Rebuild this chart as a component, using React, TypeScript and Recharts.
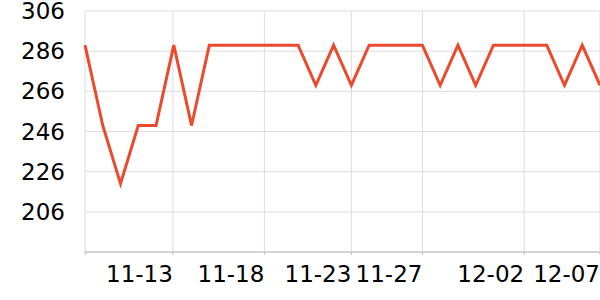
import { LineChart, Line, XAxis, YAxis, CartesianGrid } from 'recharts';

// daily readings, one per point
const values = [
    289, 249, 220, 249, 249, 289, 249, 289, 289, 289,
    289, 289, 289, 269, 289, 269, 289, 289, 289, 289,
    269, 289, 269, 289, 289, 289, 289, 269, 289, 269,
];

// where the date ticks fall along the point index, and their labels
const tickAt = [0, 4.95, 10.1, 15, 19, 24.73, 29];
const tickLabels = ['', '11-13', '11-18', '11-23', '11-27', '12-02', '12-07'];

const yTicks = [206, 226, 246, 266, 286, 306];

const data = values.map((v, i) => ({ i, value: v }));

const FONT = '"DejaVu Sans", sans-serif';

// x labels sit to the left of their tick
const DateTick = ({ x, y, payload }: any) => {
    const idx = tickAt.indexOf(payload.value);
    const label = idx >= 0 ? tickLabels[idx] : '';
    return (
        <text x={x} y={y} dy="0.71em" textAnchor="end" fontSize={23} fontFamily={FONT} fill="#000">
            {label}
        </text>
    );
};

export default function App() {
    return (
        <div style={{ position: 'absolute', left: 0, top: 0, background: '#fff' }}>
            <LineChart width={600} height={300} data={data} margin={{ top: 11, right: 0, bottom: 0, left: 0 }}>
                <CartesianGrid stroke="#ddd" />
                <XAxis
                    dataKey="i"
                    type="number"
                    domain={[0, 29]}
                    ticks={tickAt}
                    interval={0}
                    height={48}
                    stroke="#bbb"
                    tickSize={3}
                    tickMargin={11}
                    tick={<DateTick />}
                />
                <YAxis
                    domain={[186, 306]}
                    ticks={yTicks}
                    interval={0}
                    width={85}
                    axisLine={false}
                    tickLine={false}
                    tickSize={0}
                    tickMargin={20}
                    tick={{ fill: '#000', fontSize: 23, fontFamily: FONT }}
                />
                <Line
                    type="linear"
                    dataKey="value"
                    stroke="#eb4a2d"
                    strokeWidth={3}
                    dot={false}
                    isAnimationActive={false}
                />
            </LineChart>
        </div>
    );
}
